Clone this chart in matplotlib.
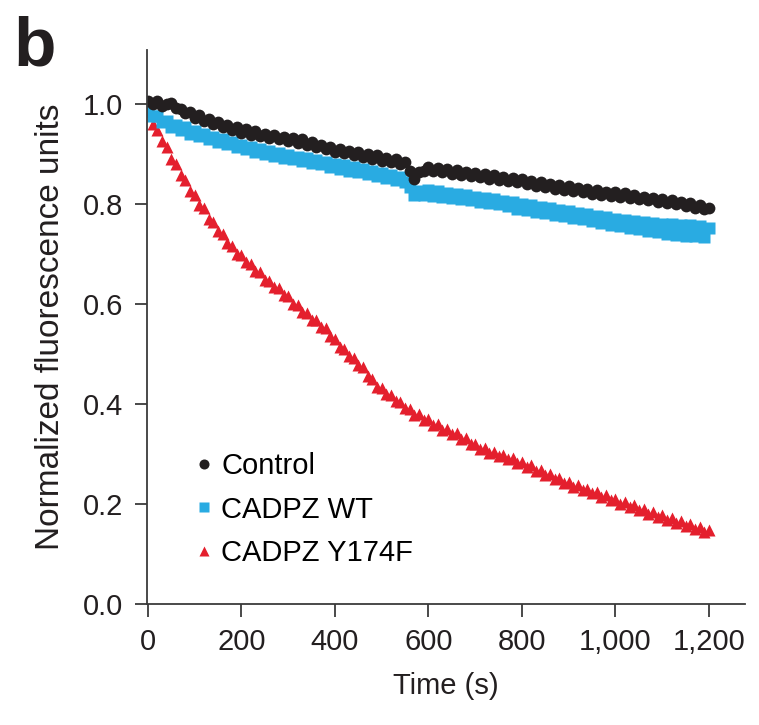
import numpy as np
import matplotlib
matplotlib.use("Agg")
import matplotlib.pyplot as plt

plt.rcParams['font.family'] = ['Liberation Sans', 'DejaVu Sans']

# time points (s), one reading every 10 s
time_s = np.arange(0, 1201, 10)

control = [
    1.006, 1.000, 1.007, 0.996, 1.001, 1.003, 0.991, 0.990, 0.981, 0.984,
    0.972, 0.977, 0.965, 0.970, 0.960, 0.963, 0.953, 0.958, 0.948, 0.954,
    0.943, 0.949, 0.939, 0.946, 0.935, 0.941, 0.932, 0.937, 0.930, 0.934,
    0.925, 0.931, 0.921, 0.929, 0.917, 0.923, 0.914, 0.918, 0.909, 0.914,
    0.904, 0.910, 0.901, 0.906, 0.897, 0.903, 0.893, 0.899, 0.890, 0.897,
    0.886, 0.892, 0.883, 0.890, 0.880, 0.884, 0.866, 0.850, 0.864, 0.866,
    0.874, 0.866, 0.871, 0.863, 0.869, 0.860, 0.867, 0.858, 0.864, 0.855,
    0.861, 0.853, 0.859, 0.850, 0.857, 0.847, 0.854, 0.846, 0.851, 0.843,
    0.849, 0.840, 0.846, 0.836, 0.843, 0.834, 0.840, 0.831, 0.838, 0.829,
    0.835, 0.827, 0.832, 0.824, 0.830, 0.821, 0.828, 0.819, 0.825, 0.817,
    0.824, 0.815, 0.822, 0.812, 0.818, 0.809, 0.815, 0.807, 0.812, 0.804,
    0.810, 0.801, 0.807, 0.799, 0.804, 0.796, 0.801, 0.792, 0.798, 0.789,
    0.791,
]

wt = [
    0.985, 0.975, 0.975, 0.963, 0.965, 0.953, 0.958, 0.947, 0.953, 0.940,
    0.945, 0.935, 0.940, 0.930, 0.934, 0.924, 0.929, 0.920, 0.924, 0.913,
    0.918, 0.909, 0.914, 0.904, 0.909, 0.900, 0.905, 0.895, 0.902, 0.892,
    0.898, 0.889, 0.894, 0.885, 0.891, 0.881, 0.888, 0.879, 0.884, 0.874,
    0.880, 0.870, 0.877, 0.866, 0.873, 0.863, 0.869, 0.860, 0.865, 0.856,
    0.862, 0.852, 0.858, 0.847, 0.853, 0.844, 0.834, 0.818, 0.827, 0.819,
    0.828, 0.817, 0.826, 0.815, 0.823, 0.812, 0.821, 0.810, 0.818, 0.807,
    0.815, 0.804, 0.813, 0.801, 0.810, 0.799, 0.806, 0.795, 0.803, 0.790,
    0.800, 0.788, 0.797, 0.784, 0.794, 0.781, 0.792, 0.778, 0.788, 0.775,
    0.785, 0.771, 0.782, 0.769, 0.779, 0.765, 0.776, 0.762, 0.773, 0.758,
    0.770, 0.755, 0.768, 0.752, 0.766, 0.749, 0.764, 0.746, 0.762, 0.743,
    0.760, 0.740, 0.759, 0.738, 0.758, 0.736, 0.757, 0.735, 0.756, 0.734,
    0.752,
]

y174f = [
    0.985, 0.960, 0.947, 0.925, 0.913, 0.890, 0.880, 0.858, 0.848, 0.827,
    0.818, 0.798, 0.791, 0.770, 0.763, 0.745, 0.739, 0.722, 0.717, 0.701,
    0.698, 0.683, 0.680, 0.665, 0.663, 0.648, 0.646, 0.633, 0.631, 0.617,
    0.615, 0.601, 0.599, 0.585, 0.583, 0.569, 0.568, 0.554, 0.552, 0.535,
    0.530, 0.513, 0.510, 0.496, 0.493, 0.478, 0.475, 0.457, 0.451, 0.435,
    0.433, 0.420, 0.419, 0.406, 0.405, 0.392, 0.391, 0.379, 0.380, 0.369,
    0.370, 0.359, 0.360, 0.349, 0.351, 0.340, 0.342, 0.331, 0.332, 0.320,
    0.321, 0.311, 0.313, 0.303, 0.305, 0.296, 0.299, 0.290, 0.293, 0.283,
    0.285, 0.275, 0.278, 0.267, 0.269, 0.259, 0.261, 0.251, 0.253, 0.243,
    0.245, 0.235, 0.238, 0.228, 0.231, 0.222, 0.225, 0.215, 0.218, 0.208,
    0.211, 0.201, 0.204, 0.195, 0.198, 0.188, 0.191, 0.181, 0.184, 0.175,
    0.178, 0.169, 0.172, 0.163, 0.166, 0.157, 0.160, 0.151, 0.154, 0.145,
    0.148,
]

labels = ['Control', 'CADPZ WT', 'CADPZ Y174F']

fig = plt.figure(figsize=(7.59, 7.25), dpi=100)
ax = fig.add_axes([147 / 759, 121 / 725, 598 / 759, 554 / 725])

h_red, = ax.plot(time_s, y174f, '^', color='#e41f2d', ms=9, mec='none')
h_blue, = ax.plot(time_s, wt, 's', color='#29abe2', ms=8.5, mec='none')
h_black, = ax.plot(time_s, control, 'o', color='#231f20', ms=8.5, mec='none')

ax.set_xlim(-2, 1277)
ax.set_ylim(0, 1.108)
ax.set_xticks([0, 200, 400, 600, 800, 1000, 1200])
ax.set_xticklabels(['0', '200', '400', '600', '800', '1,000', '1,200'])
ax.set_yticks([0, 0.2, 0.4, 0.6, 0.8, 1.0])
ax.set_yticklabels(['0.0', '0.2', '0.4', '0.6', '0.8', '1.0'])

for s in ['top', 'right']:
    ax.spines[s].set_visible(False)
for s in ['left', 'bottom']:
    ax.spines[s].set_color('#3a3a3a')
    ax.spines[s].set_linewidth(1.3)
ax.tick_params(direction='out', length=9, width=1.3, color='#3a3a3a',
               labelsize=21, labelcolor='#231f20', pad=8)

ax.set_xlabel('Time (s)', fontsize=21, color='#231f20', labelpad=12)
ax.set_ylabel('Normalized fluorescence units', fontsize=24, color='#231f20', labelpad=12)

ax.legend([h_black, h_blue, h_red], labels, loc='upper left',
          bbox_to_anchor=(0.08, 0.274), frameon=False, fontsize=21,
          handlelength=0.6, handletextpad=0.3, labelspacing=0.53,
          borderpad=0, borderaxespad=0, markerscale=0.85)

fig.text(0.018, 0.978, 'b', fontsize=50, fontweight='bold', va='top', color='#231f20')

fig.savefig('out.png', dpi=100)
